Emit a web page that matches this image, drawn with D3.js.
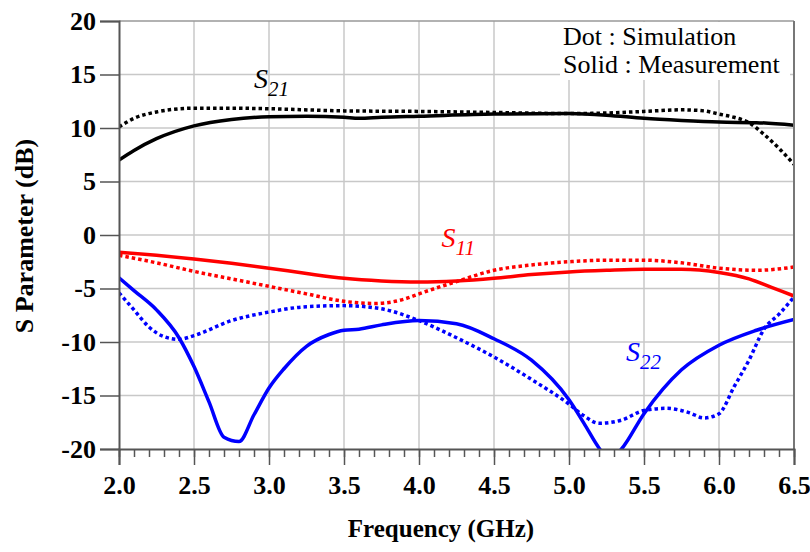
<!DOCTYPE html>
<html>
<head>
<meta charset="utf-8">
<script src="https://cdn.jsdelivr.net/npm/d3@7"></script>
<style>
  body { margin: 0; background: #fff; }
  svg { display: block; }
</style>
</head>
<body>
<svg width="810" height="552"></svg>
<script>
// frequency axis (GHz) and dB axis ticks
var xMajor = [2.0, 2.5, 3.0, 3.5, 4.0, 4.5, 5.0, 5.5, 6.0, 6.5];
var yMajor = [-20, -15, -10, -5, 0, 5, 10, 15, 20];

// S21 measured (solid black)
var s21MeasF = [2.0, 2.1, 2.25, 2.5, 2.75, 3.0, 3.25, 3.5, 3.6, 3.75, 4.0, 4.5, 5.0, 5.25, 5.5, 5.75, 6.0, 6.25, 6.5];
var s21MeasDb = [7.0, 7.9, 9.0, 10.2, 10.8, 11.05, 11.1, 11.0, 10.9, 11.0, 11.1, 11.3, 11.35, 11.2, 10.9, 10.7, 10.55, 10.5, 10.25];
// S21 simulated (dotted black)
var s21SimF = [2.0, 2.1, 2.25, 2.5, 2.75, 3.0, 3.5, 4.0, 4.5, 5.0, 5.25, 5.5, 5.75, 5.9, 6.0, 6.1, 6.2, 6.3, 6.4, 6.5];
var s21SimDb = [10.1, 10.9, 11.5, 11.85, 11.85, 11.8, 11.6, 11.55, 11.45, 11.35, 11.4, 11.55, 11.7, 11.6, 11.3, 11.0, 10.5, 9.4, 8.1, 6.6];

// S11 measured (solid red)
var s11MeasF = [2.0, 2.25, 2.5, 2.75, 3.0, 3.25, 3.5, 3.75, 4.0, 4.25, 4.5, 4.75, 5.0, 5.25, 5.5, 5.75, 6.0, 6.2, 6.35, 6.5];
var s11MeasDb = [-1.6, -1.9, -2.25, -2.65, -3.1, -3.6, -4.05, -4.3, -4.4, -4.3, -4.05, -3.7, -3.45, -3.3, -3.2, -3.2, -3.5, -4.1, -4.9, -5.7];
// S11 simulated (dotted red)
var s11SimF = [2.0, 2.25, 2.5, 2.75, 3.0, 3.25, 3.5, 3.7, 3.9, 4.0, 4.25, 4.5, 4.75, 5.0, 5.25, 5.5, 5.75, 6.0, 6.25, 6.5];
var s11SimDb = [-1.9, -2.6, -3.4, -4.1, -4.8, -5.5, -6.2, -6.4, -6.0, -5.5, -4.35, -3.3, -2.8, -2.5, -2.35, -2.35, -2.6, -3.1, -3.3, -3.0];

// S22 measured (solid blue)
var s22MeasF = [2.0, 2.1, 2.25, 2.4, 2.5, 2.6, 2.7, 2.8, 2.9, 3.0, 3.1, 3.25, 3.4, 3.5, 3.6, 3.75, 4.0, 4.25, 4.5, 4.75, 5.0, 5.1, 5.2, 5.27, 5.35, 5.5, 5.75, 6.0, 6.25, 6.5];
var s22MeasDb = [-4.0, -5.2, -7.0, -9.6, -12.3, -15.6, -18.9, -19.3, -16.8, -14.3, -12.5, -10.4, -9.3, -8.9, -8.8, -8.4, -8.0, -8.3, -9.7, -11.7, -15.4, -17.6, -19.9, -21.0, -20.0, -16.7, -12.6, -10.3, -8.9, -7.9];
// S22 simulated (dotted blue)
var s22SimF = [2.0, 2.1, 2.2, 2.3, 2.4, 2.5, 2.75, 3.0, 3.25, 3.5, 3.75, 4.0, 4.25, 4.5, 4.75, 5.0, 5.1, 5.2, 5.35, 5.5, 5.65, 5.8, 5.9, 6.0, 6.1, 6.2, 6.3, 6.4, 6.5];
var s22SimDb = [-5.4, -7.0, -8.6, -9.5, -9.75, -9.4, -8.0, -7.2, -6.7, -6.6, -6.9, -8.0, -9.6, -11.4, -13.5, -15.8, -16.9, -17.6, -17.3, -16.4, -16.2, -16.6, -17.1, -16.7, -14.2, -11.7, -8.8, -7.4, -5.8];

var series = [
  { f: s21MeasF, db: s21MeasDb, color: '#000', dotted: false },
  { f: s21SimF, db: s21SimDb, color: '#000', dotted: true },
  { f: s11MeasF, db: s11MeasDb, color: '#ff0000', dotted: false },
  { f: s11SimF, db: s11SimDb, color: '#ff0000', dotted: true },
  { f: s22MeasF, db: s22MeasDb, color: '#0000ff', dotted: false },
  { f: s22SimF, db: s22SimDb, color: '#0000ff', dotted: true }
];

var serif = '"Liberation Serif", "Times New Roman", serif';

var svg = d3.select('svg');

var x = d3.scaleLinear().domain([2, 6.5]).range([119, 794]);
var y = d3.scaleLinear().domain([-20, 20]).range([449, 21]);

// grid
svg.append('g').selectAll('line').data(xMajor.slice(1, -1)).enter().append('line')
  .attr('x1', function(d) { return x(d); }).attr('x2', function(d) { return x(d); })
  .attr('y1', y(20)).attr('y2', y(-20))
  .attr('stroke', '#c8c8c8').attr('stroke-width', 1.5);
svg.append('g').selectAll('line').data(yMajor.slice(1, -1)).enter().append('line')
  .attr('x1', x(2)).attr('x2', x(6.5))
  .attr('y1', function(d) { return y(d); }).attr('y2', function(d) { return y(d); })
  .attr('stroke', '#c8c8c8').attr('stroke-width', 1.5);

// legend box hides the grid behind it
svg.append('rect').attr('x', 560).attr('y', 22).attr('width', 230).attr('height', 58).attr('fill', '#fff');
svg.append('text').attr('x', 563).attr('y', 45).text('Dot : Simulation')
  .style('font-family', serif).style('font-size', '26px');
svg.append('text').attr('x', 563).attr('y', 73).text('Solid : Measurement')
  .style('font-family', serif).style('font-size', '26px');

svg.append('clipPath').attr('id', 'plot')
  .append('rect').attr('x', x(2)).attr('y', y(20)).attr('width', x(6.5) - x(2)).attr('height', y(-20) - y(20));

var line = d3.line()
  .x(function(d) { return x(d[0]); })
  .y(function(d) { return y(d[1]); })
  .curve(d3.curveMonotoneX);

svg.append('g').attr('clip-path', 'url(#plot)')
  .selectAll('path').data(series).enter().append('path')
  .attr('d', function(s) { return line(d3.zip(s.f, s.db)); })
  .attr('fill', 'none')
  .attr('stroke', function(s) { return s.color; })
  .attr('stroke-width', 3.5)
  .attr('stroke-dasharray', function(s) { return s.dotted ? '3.5,3' : null; });

// frame
svg.append('line').attr('x1', x(2)).attr('x2', x(6.5)).attr('y1', y(20)).attr('y2', y(20)).attr('stroke', '#999').attr('stroke-width', 1.5);
svg.append('line').attr('x1', x(6.5)).attr('x2', x(6.5)).attr('y1', y(20)).attr('y2', y(-20)).attr('stroke', '#777').attr('stroke-width', 2);

// x axis: minor every 0.1, major every 0.5
var xMinor = d3.range(20, 66).map(function(d) { return d / 10; });
var xAxisMinor = svg.append('g').attr('transform', 'translate(0,' + y(-20) + ')')
  .call(d3.axisBottom(x).tickValues(xMinor).tickSize(8).tickFormat(''));
var xAxis = svg.append('g').attr('transform', 'translate(0,' + y(-20) + ')')
  .call(d3.axisBottom(x).tickValues(xMajor).tickSize(16).tickPadding(11).tickFormat(d3.format('.1f')));
xAxisMinor.select('.domain').remove();
xAxis.select('.domain').attr('stroke', '#555').attr('stroke-width', 2);

var yAxis = svg.append('g').attr('transform', 'translate(' + x(2) + ',0)')
  .call(d3.axisLeft(y).tickValues(yMajor).tickSize(19).tickPadding(4)
    .tickFormat(function(d) { return String(d); }));
yAxis.select('.domain').attr('stroke', '#555').attr('stroke-width', 2);

svg.selectAll('.tick line').attr('stroke', '#555').attr('stroke-width', 1.5);
svg.selectAll('.tick text')
  .attr('font-family', null).attr('font-size', null)
  .style('font-family', serif).style('font-weight', 'bold').style('font-size', '26px').style('fill', '#000');

// axis titles
svg.append('text').attr('x', 441).attr('y', 537).attr('text-anchor', 'middle')
  .text('Frequency (GHz)')
  .style('font-family', serif).style('font-weight', 'bold').style('font-size', '25px');
svg.append('text').attr('transform', 'translate(33,236) rotate(-90)').attr('text-anchor', 'middle')
  .text('S Parameter (dB)')
  .style('font-family', serif).style('font-weight', 'bold').style('font-size', '26px');

// curve labels
var labels = [
  { name: '21', f: 2.9, db: 13.7, color: '#000' },
  { name: '11', f: 4.15, db: -1.1, color: '#ff0000' },
  { name: '22', f: 5.38, db: -11.8, color: '#0000ff' }
];
var lab = svg.append('g').selectAll('text').data(labels).enter().append('text')
  .attr('x', function(d) { return x(d.f); })
  .attr('y', function(d) { return y(d.db); })
  .attr('fill', function(d) { return d.color; })
  .style('font-family', serif).style('font-style', 'italic');
lab.append('tspan').text('S').style('font-size', '28px');
lab.append('tspan').attr('dy', 8).text(function(d) { return d.name; }).style('font-size', '21px');
</script>
</body>
</html>
